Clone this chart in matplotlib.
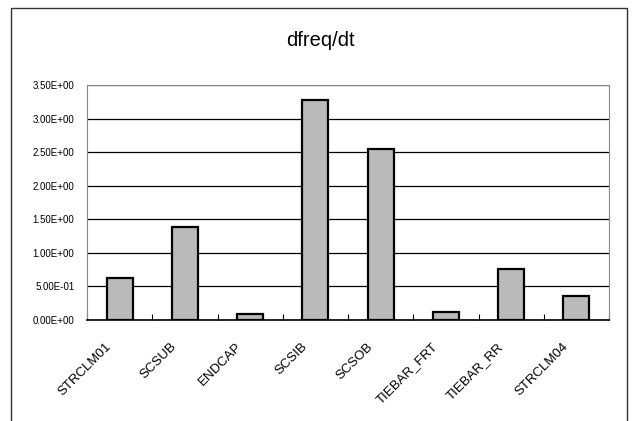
import matplotlib.pyplot as plt
import numpy as np
from matplotlib.patches import Rectangle
from matplotlib.transforms import ScaledTranslation

names = ["STRCLM01", "SCSUB", "ENDCAP", "SCSIB", "SCSOB", "TIEBAR_FRT", "TIEBAR_RR", "STRCLM04"]
values = [0.62, 1.39, 0.09, 3.27, 2.54, 0.125, 0.755, 0.36]
yticks = [0.0, 0.5, 1.0, 1.5, 2.0, 2.5, 3.0, 3.5]

plt.rcParams['font.family'] = ['Liberation Sans', 'DejaVu Sans']

fig = plt.figure(figsize=(6.32, 4.21), dpi=100)

# outer chart frame
fig.patches.append(Rectangle((11 / 632, -0.05), 616 / 632, 1 - 8 / 421 + 0.05,
                             transform=fig.transFigure, fill=False,
                             edgecolor='#333333', linewidth=1.0))

ax = fig.add_axes([87 / 632, 1 - 320 / 421, 522 / 632, (320 - 85) / 421])

x = np.arange(len(names))
ax.bar(x, values, width=0.4, color='#bababa', edgecolor='black', linewidth=1.6, zorder=3)

ax.set_xlim(-0.5, len(names) - 0.5)
ax.set_ylim(0, 3.5)
ax.set_yticks(yticks)
ax.set_yticklabels([f"{v:.2E}" for v in yticks], fontsize=7)
ax.yaxis.grid(True, color='black', linewidth=0.9, zorder=1)
ax.tick_params(axis='y', length=0, pad=9)

# category labels under bars, ticks at category boundaries
ax.set_xticks(x)
ax.set_xticklabels(names, rotation=45, ha='right', va='center',
                   rotation_mode='anchor', fontsize=9.5)
ax.tick_params(axis='x', which='major', length=0, pad=18)
shift = ScaledTranslation(-10 / 100, 0, fig.dpi_scale_trans)
for lab in ax.get_xticklabels():
    lab.set_transform(lab.get_transform() + shift)
ax.set_xticks(np.arange(len(names) + 1) - 0.5, minor=True)
ax.tick_params(axis='x', which='minor', direction='in', length=4, width=0.8)

for s in ['left', 'right', 'top']:
    ax.spines[s].set_color('#888888')
    ax.spines[s].set_linewidth(0.8)
ax.spines['bottom'].set_color('black')
ax.spines['bottom'].set_linewidth(1.2)

fig.text(320 / 632, 1 - 40 / 421, "dfreq/dt", ha='center', va='center', fontsize=14.5)

plt.savefig("out.png", dpi=100)
